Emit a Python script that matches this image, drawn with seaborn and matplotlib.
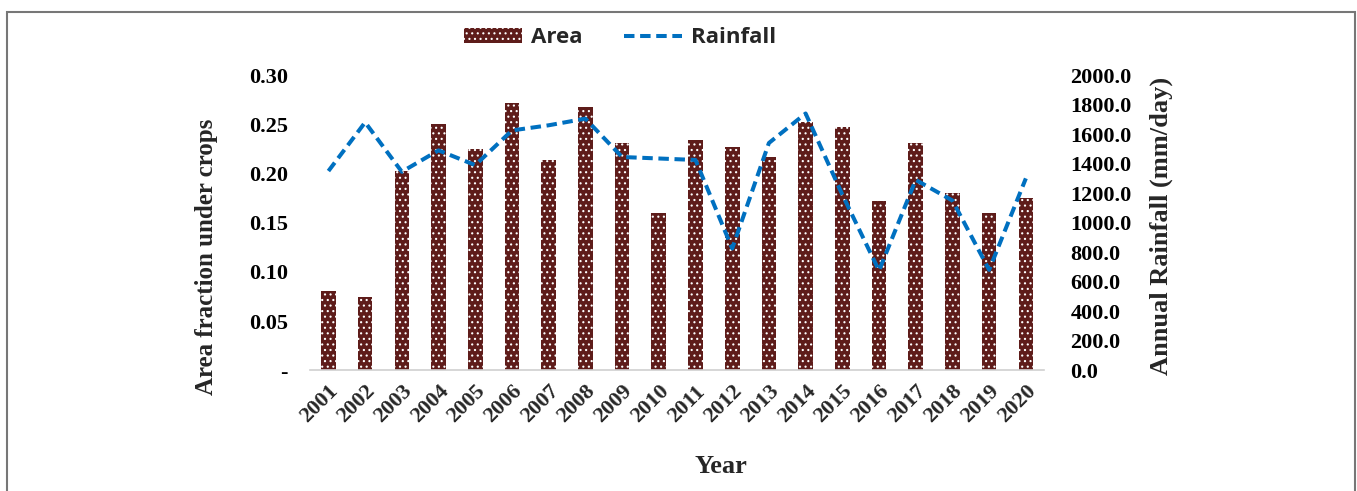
import matplotlib
matplotlib.use("Agg")
import matplotlib.pyplot as plt
import matplotlib.patches as mpatches
from matplotlib.lines import Line2D
from matplotlib.ticker import FuncFormatter
import seaborn as sns
import numpy as np
import pandas as pd

# Data
years = [str(y) for y in range(2001, 2021)]
area = [0.081, 0.074, 0.203, 0.250, 0.225, 0.272, 0.214, 0.268, 0.231, 0.160,
        0.234, 0.227, 0.217, 0.252, 0.247, 0.172, 0.231, 0.180, 0.160, 0.175]
rainfall = [1350, 1680, 1345, 1490, 1390, 1625, 1660, 1705, 1445, 1435,
            1425, 825, 1540, 1740, 1190, 675, 1290, 1150, 680, 1300]

df = pd.DataFrame({"Year": years, "Area": area, "Rainfall": rainfall})
df["pos"] = np.arange(len(df))

sns.set_theme(style="white")
plt.rcParams["hatch.color"] = "white"
plt.rcParams["hatch.linewidth"] = 0.8

serif = ["Liberation Serif", "DejaVu Serif"]
bar_color = "#5E1C1A"
line_color = "#0070C0"
dash = (0, (2.6, 1.4))

fig = plt.figure(figsize=(13.57, 4.91), dpi=100)
ax = fig.add_axes([0.2285, 0.246, 0.541, 0.601])

sns.barplot(data=df, x="Year", y="Area", color=bar_color, width=0.4,
            saturation=1, ax=ax)
for p in ax.patches:
    p.set_hatch("...")
    p.set_edgecolor("white")
    p.set_linewidth(0)

ax.set_xlim(-0.5, len(years) - 0.5)
ax.set_ylim(0, 0.30)
ax.set_yticks(np.arange(0, 0.301, 0.05))
ax.yaxis.set_major_formatter(FuncFormatter(lambda v, _: "-" if abs(v) < 1e-9 else f"{v:.2f}"))

ax2 = ax.twinx()
sns.lineplot(data=df, x="pos", y="Rainfall", color=line_color, linewidth=2.9,
             linestyle=dash, ax=ax2)
ax2.set_ylim(0, 2000)
ax2.set_yticks(np.arange(0, 2001, 200))
ax2.yaxis.set_major_formatter(FuncFormatter(lambda v, _: f"{v:.1f}"))
ax2.set_xlim(-0.5, len(years) - 0.5)

for a in (ax, ax2):
    for s in a.spines.values():
        s.set_visible(False)
    a.tick_params(length=0)
ax.spines["bottom"].set_visible(True)
ax.spines["bottom"].set_color("#D0D0D0")
ax.spines["bottom"].set_linewidth(1.2)

for lbl in ax.get_yticklabels() + ax2.get_yticklabels():
    lbl.set_fontfamily(serif)
    lbl.set_fontweight("bold")
    lbl.set_fontsize(16)
    lbl.set_color("black")
ax.tick_params(axis="y", pad=16)
ax2.tick_params(axis="y", pad=19)

ax.set_xticks(range(len(years)))
ax.set_xticklabels(years, rotation=45, ha="right", rotation_mode="anchor",
                   fontfamily=serif, fontweight="bold", fontsize=16)
ax.tick_params(axis="x", pad=8)

ax.set_xlabel("Year", fontfamily=serif, fontweight="bold", fontsize=19)
ax.xaxis.set_label_coords(0.56, -0.287)
ax.set_ylabel("Area fraction under crops", fontfamily=serif, fontweight="bold",
              fontsize=18)
ax.yaxis.set_label_coords(-0.126, 0.385)
ax2.set_ylabel("Annual Rainfall (mm/day)", fontfamily=serif, fontweight="bold",
               fontsize=19)
ax2.yaxis.set_label_coords(1.143, 0.49)

handles = [mpatches.Patch(facecolor=bar_color, hatch="...", edgecolor="white",
                          linewidth=0, label="Area"),
           Line2D([0], [0], color=line_color, linewidth=2.9, linestyle=dash,
                  label="Rainfall")]
fig.legend(handles=handles, loc="upper center", bbox_to_anchor=(0.457, 0.985),
           ncol=2, frameon=False, handlelength=2.6, handleheight=0.7,
           columnspacing=1.9, handletextpad=0.4,
           prop={"family": ["Open Sans", "DejaVu Sans"], "weight": "bold", "size": 16})

# light frame around the figure
fig.patches.append(mpatches.Rectangle((7 / 1357, -0.02), 1348 / 1357, 1.008 - 6 / 491,
                                      transform=fig.transFigure, fill=False,
                                      edgecolor="#777777", linewidth=1.5))

fig.savefig("out.png", dpi=100)
